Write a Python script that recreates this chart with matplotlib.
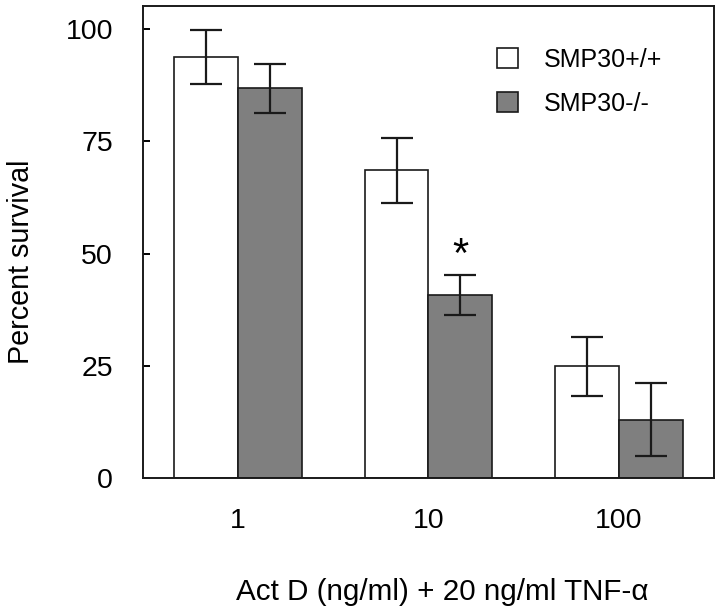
import numpy as np
import matplotlib
matplotlib.use('Agg')
import matplotlib.pyplot as plt

plt.rcParams['font.family'] = ['Liberation Sans', 'DejaVu Sans']

# doses of Act D (ng/ml)
doses = ['1', '10', '100']

# percent survival, mean and error
wt_mean = [93.7, 68.5, 24.9]
wt_err = [6.0, 7.3, 6.6]
ko_mean = [86.8, 40.8, 13.0]
ko_err = [5.5, 4.4, 8.2]

labels = ['SMP30+/+', 'SMP30-/-']
star_group = 1

fig = plt.figure(figsize=(7.2, 6.11), dpi=100)
ax = fig.add_axes([143/720, 1 - 478/611, 571/720, 472.3/611])

x = np.arange(len(doses))
w = 0.336
err_kw = dict(elinewidth=1.6, capthick=1.6, capsize=11.5, ecolor='#1a1a1a')

ax.bar(x - w/2, wt_mean, w, yerr=wt_err, color='white', edgecolor='#1a1a1a',
       linewidth=1.2, label=labels[0], error_kw=err_kw)
ax.bar(x + w/2, ko_mean, w, yerr=ko_err, color='#7f7f7f', edgecolor='#1a1a1a',
       linewidth=1.2, label=labels[1], error_kw=err_kw)

# significance mark above the knockout bar
ax.text(star_group + w/2, ko_mean[star_group] + ko_err[star_group] + 1.7, '*',
        ha='center', va='baseline', fontsize=30)

ax.set_xlim(-0.5, 2.5)
ax.set_ylim(0, 105.2)
ax.set_xticks(x)
ax.set_xticklabels(doses)
ax.set_yticks([0, 25, 50, 75, 100])
ax.tick_params(axis='y', direction='in', length=5, width=1.4, pad=21.5, labelsize=20.5)
ax.tick_params(axis='x', length=0, pad=21.5, labelsize=20.5)
for s in ax.spines.values():
    s.set_linewidth(1.4)
    s.set_color('#1a1a1a')

ax.set_ylabel('Percent survival', fontsize=20.7, va='center')
ax.yaxis.set_label_coords(-0.214, 0.457)
ax.set_xlabel('Act D (ng/ml) + 20 ng/ml TNF-α', fontsize=21.3, va='center')
ax.xaxis.set_label_coords(0.524, -0.241)

ax.legend(loc='upper left', bbox_to_anchor=(497/720, 1 - 48/611),
          bbox_transform=fig.transFigure, frameon=False, fontsize=18,
          handlelength=0.84, handleheight=0.84, handletextpad=1.04,
          labelspacing=0.8, borderpad=0, borderaxespad=0)

fig.savefig('out.png', dpi=100)
